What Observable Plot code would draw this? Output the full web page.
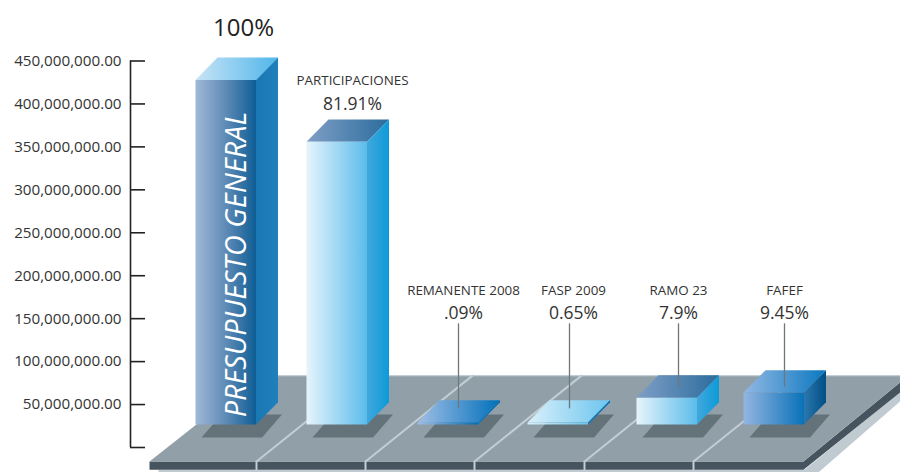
<!DOCTYPE html>
<html><head><meta charset="utf-8">
<script src="https://cdn.jsdelivr.net/npm/d3@7"></script>
<script src="https://cdn.jsdelivr.net/npm/@observablehq/plot@0.6"></script>
<style>html,body{margin:0;padding:0;background:#fff}svg{display:block}</style>
</head><body><div id="chart"></div>
<script>
// ---- data (amounts as read against the axis, pesos) ----
const categories = ["PRESUPUESTO GENERAL","PARTICIPACIONES","REMANENTE 2008","FASP 2009","RAMO 23","FAFEF"];
const amounts = [428e6, 356e6, 29e6, 29e6, 58e6, 64e6];
const shares = ["100%","81.91%",".09%","0.65%","7.9%","9.45%"];
const yTicks = [0,50e6,100e6,150e6,200e6,250e6,300e6,350e6,400e6,450e6];

// ---- layout ----
const slotLeft = [195,306,417,527,636,743];
const barW = 60.5, depthX = 22, depthY = 26e6, base = 26.7e6;
const floorBack = 83.7e6, floorFront = -16.3e6, stripBottom = -26e6, edgeBottom = -29e6;
const seams = [256,365,474,584,693];
const faces = [
  {front:"a1", side:"a2", top:"a3"},
  {front:"b1", side:"b2", top:"b3"},
  {front:"c3", side:"c2", top:"c3"},
  {front:"d3", side:"c2", top:"d3"},
  {front:"b1", side:"b2", top:"b3"},
  {front:"e1", side:"e2", top:"e3"}
];
const grads = {
  a1:["#a0b8d8","#5f8bb6","#0e5e96"], a2:["#1a78b4","#2080bc"], a3:["#c8e3f6","#50b6ea"],
  b1:["#e6f4fc","#5cbcea"], b2:["#41a8dd","#0c9ad8"], b3:["#7f9fc6","#2b6c9d"],
  c2:["#0a7cc4","#0066ac"], c3:["#a0bee6","#0070ba"],
  d3:["#d9f0fb","#6bc5ee"],
  e1:["#93b5e1","#0a72b8"], e2:["#2b77ae","#004f85"], e3:["#92b8e3","#0a78c0"]
};

const poly = (pts, fill) => Plot.line(pts, {x:"0", y:"1", fill, stroke:"none"});
const defs = () => {
  const g = document.createElementNS("http://www.w3.org/2000/svg","g");
  g.innerHTML = "<defs>" + Object.entries(grads).map(([id,c]) =>
    `<linearGradient id="${id}">` + c.map((s,i)=>`<stop offset="${i/(c.length-1)}" stop-color="${s}"/>`).join("") + "</linearGradient>").join("") + "</defs>";
  return g;
};

const floorMarks = [
  poly([[158,stripBottom],[804,stripBottom],[900,65e6],[900,54e6],[815,edgeBottom-3e6],[158,edgeBottom-3e6]], "#bfcbd1"),
  poly([[149,floorFront],[803,floorFront],[908,floorBack],[908,72e6],[803,stripBottom],[149,stripBottom]], "#45545f"),
  poly([[149,floorFront],[803,floorFront],[908,floorBack],[258,floorBack]], "#919fa9"),
  Plot.line([[258,floorBack],[908,floorBack]], {x:"0",y:"1",stroke:"#c3cdd3",strokeWidth:1.2}),
  ...seams.map(s => Plot.line([[s,stripBottom],[s,floorFront],[s+107,floorBack]], {x:"0",y:"1",stroke:"#c3cdd3",strokeWidth:2}))
];
const shadowMarks = slotLeft.map(l =>
  poly([[l+6,11.6e6],[l+6+barW,11.6e6],[l+6+barW+20,38.4e6],[l+6+20,38.4e6]], "#647279"));
const barMarks = categories.flatMap((c,i) => {
  const l = slotLeft[i], r = l+barW, v = amounts[i], f = faces[i];
  return [
    poly([[l,v],[r,v],[r+depthX,v+depthY],[l+depthX,v+depthY]], `url(#${f.top})`),
    poly([[r,base],[r,v],[r+depthX,v+depthY],[r+depthX,base+depthY]], `url(#${f.side})`),
    poly([[l,base],[r,base],[r,v],[l,v]], `url(#${f.front})`)
  ];
});

// annotations: name x, leader x, levels on the value axis
const labelRows = [
  {i:1, x:352, name:426.7e6, pct:400e6},
  {i:2, x:463, name:182.6e6, pct:155.8e6, lx:458, lb:45e6},
  {i:3, x:573, name:182.6e6, pct:155.8e6, lx:569, lb:45e6},
  {i:4, x:678, name:182.6e6, pct:155.8e6, lx:678, lb:70e6},
  {i:5, x:784, name:182.6e6, pct:155.8e6, lx:784, lb:70e6}
];
const font = "'Open Sans','Noto Sans',sans-serif";

const plot = Plot.plot({
  width:900, height:472,
  marginLeft:145, marginRight:0, marginTop:0, marginBottom:0,
  style:{background:"#fff", fontFamily:font},
  x:{domain:[0,900], range:[0,900], axis:null},
  y:{domain:[0,450e6], range:[447,60.5], axis:null},
  marks:[
    defs,
    ...floorMarks,
    Plot.ruleX([130], {y1:0, y2:450e6, stroke:"#222", strokeWidth:1.6}),
    Plot.axisY(yTicks, {anchor:"left", tickSize:15, tickPadding:9, stroke:"#222", strokeWidth:1.6,
      tickFormat:d => d===0 ? "" : d3.format(",.2f")(d), fontSize:15.2, fill:"#333", label:null, strokeOpacity:1}),
    ...shadowMarks,
    ...barMarks,
    Plot.ruleX(labelRows, {x:"lx", y1:"lb", y2:144e6, stroke:"#6f777c", strokeWidth:1.3}),
    Plot.text([shares[0]], {x:243, y:488e6, text:d=>d, fontSize:24, fill:"#222"}),
    Plot.text(labelRows, {x:"x", y:"name", text:d=>categories[d.i], fontSize:13.4, fill:"#333"}),
    Plot.text(labelRows, {x:"x", y:"pct", text:d=>shares[d.i], fontSize:17.5, fill:"#333"}),
    Plot.text([categories[0]], {x:236, y:213e6, text:d=>d, rotate:-90, fontStyle:"italic", fontSize:28.8, fill:"#fff"})
  ]
});
document.getElementById("chart").append(plot);
</script></body></html>
